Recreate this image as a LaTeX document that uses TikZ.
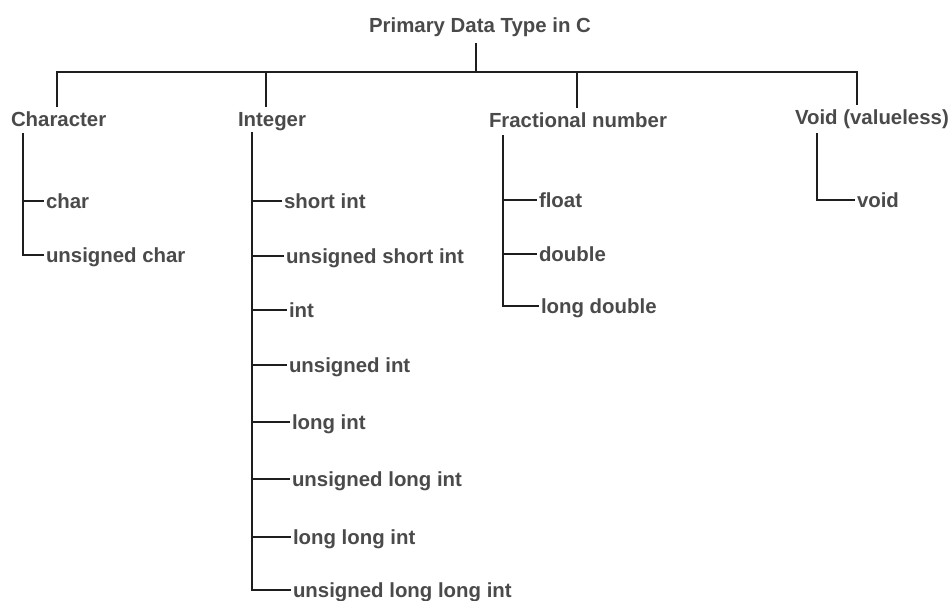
\documentclass[tikz,border=0pt]{standalone}
\usepackage{fontspec}
\setmainfont{Liberation Sans}
\definecolor{txtgray}{HTML}{4A4A4A}
\definecolor{linec}{HTML}{1E1E1E}
\begin{document}
\begin{tikzpicture}[x=1pt,y=-1pt,
  txt/.style={font=\fontsize{20.4}{24}\selectfont\bfseries, text=txtgray, inner sep=0pt, text height=14.6pt, text depth=0pt},
  leaf/.style={txt, anchor=west, outer sep=2pt},
  head/.style={txt, anchor=base west, outer sep=4pt},
  conn/.style={draw=linec, line width=1.4pt}]
\useasboundingbox (0,0) rectangle (948,600);
% title
\node[txt, anchor=base] (title) at (480,32) {Primary Data Type in C};
% headings
\node[head] (ch) at (7,126) {Character};
\node[head] (in) at (234,126) {Integer};
\node[head] (fr) at (485,127) {Fractional number};
\node[head] (vo) at (791,124) {Void (valueless)};
% bus coordinates
\coordinate (rTop) at (476,43);
\coordinate (bR) at (476,72);
\coordinate (bC) at (57,72);
\coordinate (bI) at (266,72);
\coordinate (bF) at (577,72);
\coordinate (bV) at (857,72);
\draw[conn] (rTop) -- (bR);
\draw[conn] (bC |- ch.north) -- (bC) -- (bV) -- (bV |- vo.north);
\draw[conn] (bI) -- (bI |- in.north);
\draw[conn] (bF) -- (bF |- fr.north);
% Character
\coordinate (sC) at (23,133);
\node[leaf] (c1) at (44,201) {char};
\node[leaf] (c2) at (44,255) {unsigned char};
\draw[conn] (sC) |- (c2.west);
\draw[conn] (sC |- c1.west) -- (c1.west);
% Integer
\coordinate (sI) at (252,132);
\node[leaf] (i1) at (282,201) {short int};
\node[leaf] (i2) at (284,256) {unsigned short int};
\node[leaf] (i3) at (287,310) {int};
\node[leaf] (i4) at (287,365) {unsigned int};
\node[leaf] (i5) at (290,422) {long int};
\node[leaf] (i6) at (290,479) {unsigned long int};
\node[leaf] (i7) at (291,537) {long long int};
\node[leaf] (i8) at (291,590) {unsigned long long int};
\draw[conn] (sI) |- (i8.west);
\foreach \n in {i1,i2,i3,i4,i5,i6,i7}{
  \draw[conn] (sI |- \n.west) -- (\n.west);
}
% Fractional
\coordinate (sF) at (503,135);
\node[leaf] (f1) at (537,200) {float};
\node[leaf] (f2) at (537,254) {double};
\node[leaf] (f3) at (539,306) {long double};
\draw[conn] (sF) |- (f3.west);
\draw[conn] (sF |- f1.west) -- (f1.west);
\draw[conn] (sF |- f2.west) -- (f2.west);
% Void
\coordinate (sV) at (817,133);
\node[leaf] (v1) at (855,200) {void};
\draw[conn] (sV) |- (v1.west);
\end{tikzpicture}
\end{document}
